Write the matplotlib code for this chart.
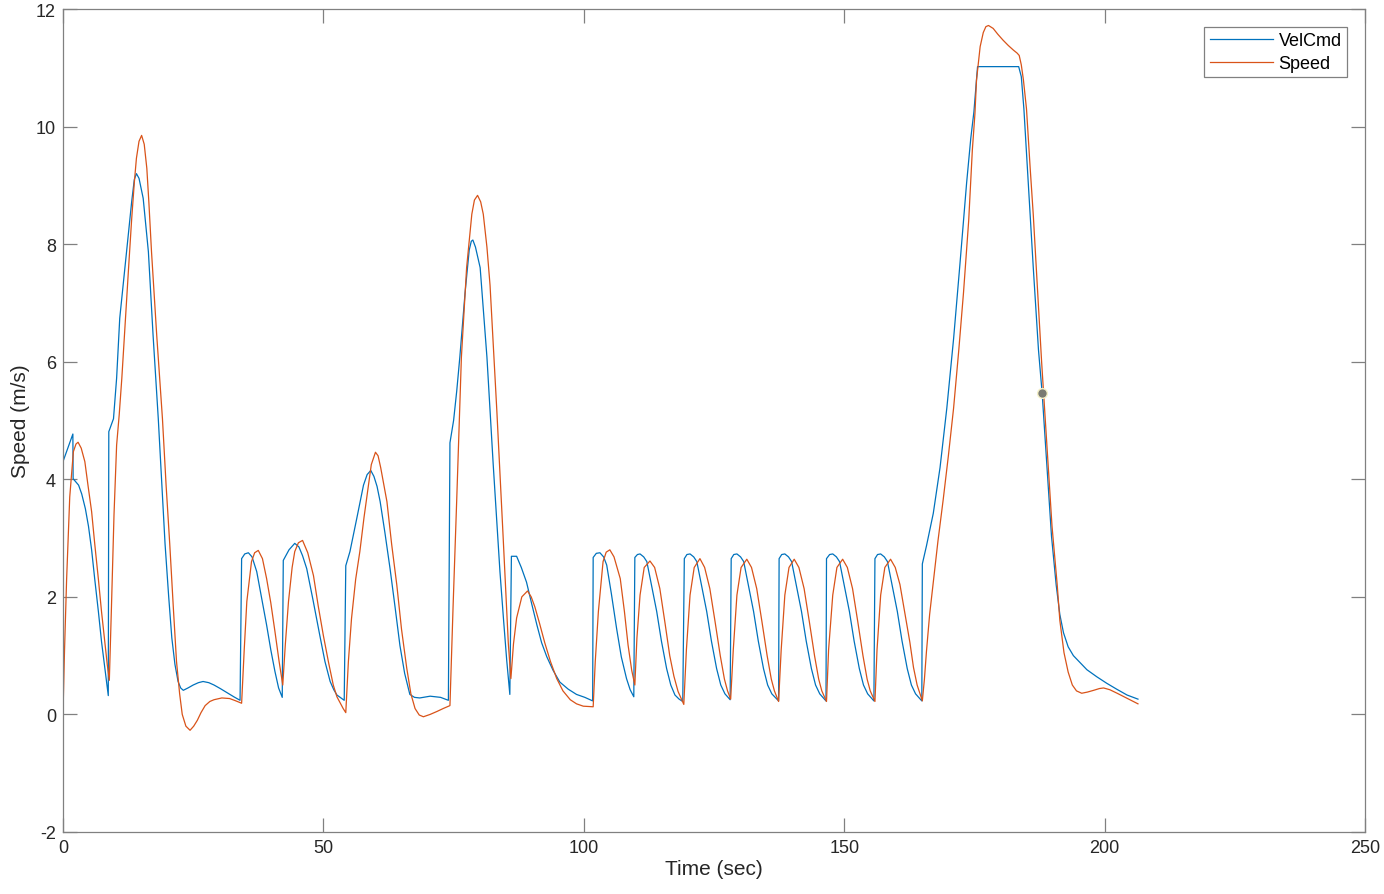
import matplotlib.pyplot as plt
import numpy as np

plt.rcParams['font.family'] = ['Liberation Sans', 'DejaVu Sans']
plt.rcParams['axes.unicode_minus'] = False

# VelCmd (blue) - time (sec), speed (m/s)
velcmd_t = np.array([
    0.0, 1.9, 1.95, 3.0, 3.6, 4.3, 4.9, 5.5, 6.1, 6.8, 7.4, 8.1, 8.7,
    8.8, 9.7, 10.3, 10.9, 12.2, 13.2, 13.7, 14.1, 14.6, 15.4, 16.4, 17.3, 18.3,
    19.0, 19.6, 20.3, 20.9, 21.5, 22.1, 22.6, 23.1,
    24.0, 25.0, 26.0, 26.9, 28.0, 29.0, 30.2, 31.5, 32.8, 34.0,
    34.3, 34.9, 35.6, 36.3, 37.2, 38.1, 39.1, 39.9, 40.7, 41.4, 42.1,
    42.3, 43.4, 44.5, 45.3, 46.0, 46.8, 48.0, 49.3, 50.3, 51.3, 52.0, 52.6, 54.0,
    54.3, 55.1, 56.4, 57.7, 58.4, 59.1, 59.7, 60.3, 60.9, 61.8, 62.8, 63.8, 64.7,
    65.6, 66.6, 67.5, 68.5, 70.5, 72.5, 74.0,
    74.3, 75.0, 75.6, 76.2, 77.2, 78.0, 78.4, 78.7, 79.2, 80.1, 81.4, 82.6, 83.9,
    84.6, 85.2, 85.8,
    86.1, 87.1, 88.0, 89.0, 90.0, 91.0, 91.9, 92.9, 94.1, 95.4, 97.0, 98.6, 100.2, 101.7,
    101.8, 102.4, 103.1, 103.8, 104.4, 105.3, 106.3, 107.2, 108.2, 108.9, 109.6,
    109.8, 110.3, 110.8, 111.5, 112.1, 113.0, 114.0, 114.9, 115.9, 116.7, 117.5, 118.3, 119.0,
    119.3, 119.8, 120.4, 121.1, 121.7, 122.6, 123.6, 124.5, 125.5, 126.3, 127.1, 128.1,
    128.3, 128.8, 129.4, 130.1, 130.7, 131.6, 132.6, 133.5, 134.5, 135.3, 136.1, 137.4,
    137.5, 138.0, 138.6, 139.3, 139.9, 140.8, 141.8, 142.7, 143.7, 144.5, 145.3, 146.5,
    146.6, 147.2, 147.8, 148.5, 149.1, 150.0, 151.0, 151.9, 152.9, 153.7, 154.5, 155.7,
    155.9, 156.4, 157.0, 157.7, 158.3, 159.2, 160.2, 161.1, 162.1, 162.9, 163.7, 164.9,
    165.0, 165.8, 167.1, 168.4, 169.7, 171.0, 172.2, 173.5, 174.3, 174.9, 175.6,
    183.5, 184.0, 184.5, 185.2, 186.3, 187.3, 188.0, 188.9, 189.8, 190.7, 191.4,
    192.1, 193.0, 194.0, 195.3, 196.6, 198.5, 200.4, 202.3, 204.3, 206.4,
])
velcmd_v = np.array([
    4.30, 4.77, 4.01, 3.90, 3.75, 3.50, 3.20, 2.80, 2.30, 1.75, 1.24, 0.75, 0.32,
    4.81, 5.03, 5.72, 6.74, 7.87, 8.73, 9.10, 9.20, 9.12, 8.78, 7.87, 6.45, 5.03,
    3.90, 2.90, 2.00, 1.30, 0.85, 0.56, 0.45, 0.41,
    0.45, 0.50, 0.54, 0.56, 0.54, 0.50, 0.44, 0.37, 0.30, 0.24,
    2.65, 2.73, 2.75, 2.68, 2.43, 2.00, 1.52, 1.10, 0.73, 0.45, 0.29,
    2.62, 2.80, 2.91, 2.85, 2.70, 2.48, 1.95, 1.35, 0.90, 0.56, 0.42, 0.33, 0.24,
    2.53, 2.77, 3.33, 3.90, 4.08, 4.15, 4.05, 3.88, 3.62, 3.10, 2.48, 1.80, 1.17,
    0.70, 0.34, 0.29, 0.28, 0.31, 0.29, 0.24,
    4.62, 5.00, 5.50, 6.08, 7.17, 7.90, 8.05, 8.07, 7.95, 7.60, 6.08, 4.26, 2.43,
    1.60, 0.92, 0.34,
    2.69, 2.69, 2.50, 2.25, 1.88, 1.52, 1.22, 0.98, 0.75, 0.55, 0.43, 0.34, 0.29, 0.23,
    2.67, 2.74, 2.75, 2.68, 2.54, 2.05, 1.46, 0.98, 0.61, 0.42, 0.30,
    2.67, 2.72, 2.73, 2.68, 2.60, 2.20, 1.75, 1.25, 0.78, 0.50, 0.33, 0.26, 0.22,
    2.65, 2.72, 2.73, 2.68, 2.60, 2.20, 1.75, 1.25, 0.78, 0.50, 0.35, 0.25,
    2.65, 2.72, 2.73, 2.68, 2.60, 2.20, 1.75, 1.25, 0.78, 0.50, 0.35, 0.23,
    2.65, 2.72, 2.73, 2.68, 2.60, 2.20, 1.75, 1.25, 0.78, 0.50, 0.35, 0.23,
    2.65, 2.72, 2.73, 2.68, 2.60, 2.20, 1.75, 1.25, 0.78, 0.50, 0.35, 0.23,
    2.65, 2.72, 2.73, 2.68, 2.60, 2.20, 1.75, 1.25, 0.78, 0.50, 0.35, 0.23,
    2.56, 2.87, 3.42, 4.20, 5.21, 6.39, 7.64, 9.04, 9.80, 10.25, 11.02,
    11.02, 10.85, 10.30, 9.25, 7.60, 6.20, 5.47, 4.25, 3.03, 2.20, 1.70,
    1.39, 1.15, 1.00, 0.88, 0.76, 0.64, 0.53, 0.43, 0.33, 0.26,
])

# Speed (orange)
speed_t = np.array([
    0.0, 0.3, 0.7, 1.3, 2.0, 2.5, 2.9, 3.5, 4.2, 4.8, 5.5, 6.1, 6.8, 7.4, 8.1, 8.5, 8.9,
    9.3, 9.8, 10.3, 10.8, 11.3, 12.0, 12.6, 13.2, 13.7, 14.1, 14.6, 15.1, 15.6, 16.1,
    16.5, 17.0, 18.0, 19.1, 19.8, 20.5, 21.2, 21.8, 22.4, 22.9, 23.6, 24.4, 25.1,
    25.8, 26.5, 27.3, 28.2, 29.0, 30.5, 32.0, 33.2, 34.3,
    34.8, 35.3, 36.2, 36.8, 37.5, 38.3, 39.1, 39.9, 40.7, 41.5, 42.2,
    42.7, 43.3, 44.0, 44.5, 45.2, 46.0, 47.0, 48.1, 49.0, 50.0, 51.0, 51.9, 52.6,
    53.2, 53.8, 54.3,
    54.8, 55.4, 56.2, 57.0, 57.8, 58.5, 59.2, 60.0, 60.5, 61.0, 62.2, 63.1, 64.1,
    65.0, 66.0, 66.8, 67.6, 68.4, 69.2, 70.5, 71.8, 73.0, 74.3,
    74.9, 75.6, 76.5, 77.5, 78.5, 79.0, 79.6, 80.2, 80.7, 81.4, 82.0, 83.3, 84.5,
    85.5, 86.0,
    86.5, 87.1, 88.1, 89.2, 89.9, 90.6, 91.5, 92.5, 93.6, 94.8, 96.0, 97.4, 98.6,
    99.9, 101.8,
    102.2, 102.8, 103.7, 104.3, 105.0, 105.8, 107.0, 107.8, 108.5, 109.2, 109.8,
    110.2, 110.8, 111.6, 112.7, 113.6, 114.6, 115.6, 116.5, 117.3, 118.1, 119.2,
    119.7, 120.4, 121.2, 122.3, 123.2, 124.2, 125.2, 126.2, 127.0, 127.6, 128.2,
    128.7, 129.4, 130.2, 131.3, 132.2, 133.2, 134.2, 135.2, 136.0, 136.6, 137.4,
    137.9, 138.6, 139.4, 140.4, 141.3, 142.3, 143.3, 144.3, 145.1, 145.7, 146.6,
    147.0, 147.8, 148.6, 149.7, 150.6, 151.6, 152.6, 153.6, 154.4, 155.0, 155.9,
    156.3, 157.0, 157.8, 158.9, 159.8, 160.7, 161.6, 162.6, 163.3, 164.0, 165.0,
    165.4, 165.8, 166.4, 167.1, 168.0, 169.0, 170.0, 171.0, 172.0, 172.9, 173.9,
    174.6, 175.1, 175.4, 176.1, 176.7, 177.2, 177.7, 178.6, 179.5, 180.5, 181.5,
    182.5, 183.2, 183.6, 184.0, 184.4, 185.0, 185.7, 186.3, 187.0, 187.9, 188.9,
    189.9, 190.9, 191.4, 192.2, 193.0, 193.8, 194.6, 195.6, 196.7, 197.9, 199.0,
    199.8, 201.0, 202.4, 204.4, 206.4,
])
speed_v = np.array([
    0.00, 1.10, 2.30, 3.70, 4.47, 4.60, 4.63, 4.53, 4.30, 3.90, 3.45, 2.90, 2.30, 1.75,
    1.17, 0.85, 0.58,
    1.80, 3.40, 4.58, 5.10, 5.72, 6.74, 7.60, 8.44, 9.05, 9.46, 9.75, 9.85, 9.70, 9.29,
    8.70, 7.87, 6.45, 5.03, 3.90, 2.90, 1.80, 0.90, 0.35, 0.00, -0.20, -0.27, -0.20,
    -0.10, 0.03, 0.15, 0.22, 0.25, 0.28, 0.27, 0.23, 0.19,
    1.10, 1.92, 2.60, 2.75, 2.79, 2.65, 2.31, 1.90, 1.41, 0.90, 0.50,
    1.20, 1.92, 2.50, 2.77, 2.92, 2.96, 2.75, 2.36, 1.85, 1.34, 0.88, 0.50, 0.30,
    0.20, 0.10, 0.03,
    0.90, 1.63, 2.30, 2.77, 3.35, 3.80, 4.25, 4.46, 4.40, 4.20, 3.62, 2.90, 2.20,
    1.45, 0.79, 0.35, 0.10, -0.01, -0.04, 0.00, 0.05, 0.10, 0.15,
    1.83, 3.65, 6.08, 7.60, 8.51, 8.75, 8.83, 8.72, 8.51, 7.95, 7.30, 5.17, 3.04,
    1.22, 0.61,
    1.20, 1.64, 2.00, 2.10, 2.00, 1.83, 1.55, 1.22, 0.90, 0.61, 0.40, 0.25, 0.18,
    0.14, 0.13,
    0.90, 1.75, 2.60, 2.76, 2.80, 2.68, 2.31, 1.75, 1.18, 0.75, 0.50,
    1.30, 2.03, 2.50, 2.61, 2.50, 2.14, 1.55, 1.00, 0.65, 0.39, 0.17,
    1.10, 2.03, 2.50, 2.65, 2.50, 2.14, 1.58, 1.00, 0.60, 0.40, 0.26,
    1.10, 2.03, 2.50, 2.64, 2.50, 2.14, 1.58, 1.00, 0.60, 0.40, 0.22,
    1.10, 2.03, 2.50, 2.64, 2.50, 2.14, 1.58, 1.00, 0.60, 0.40, 0.22,
    1.10, 2.03, 2.50, 2.64, 2.50, 2.14, 1.58, 1.00, 0.60, 0.40, 0.22,
    1.10, 2.03, 2.50, 2.64, 2.50, 2.21, 1.75, 1.23, 0.80, 0.50, 0.23,
    0.60, 1.08, 1.70, 2.25, 2.95, 3.65, 4.40, 5.21, 6.20, 7.17, 8.40,
    9.60, 10.22, 10.79, 11.36, 11.60, 11.70, 11.72, 11.67, 11.57, 11.47, 11.38,
    11.30, 11.25, 11.21, 11.05, 10.80, 10.30, 9.30, 8.50, 7.42, 6.00, 4.60,
    3.20, 2.20, 1.60, 1.05, 0.72, 0.50, 0.40, 0.36, 0.38, 0.41, 0.44,
    0.45, 0.42, 0.36, 0.27, 0.18,
])

# data tip on the VelCmd line
tip_t = [188.0]
tip_v = [5.47]

fig = plt.figure(figsize=(13.84, 8.95), dpi=100)
ax = fig.add_axes([0.0455, 0.0693, 0.9408, 0.9195])

ax.plot(velcmd_t, velcmd_v, color='#0072BD', linewidth=0.9, label='VelCmd')
ax.plot(speed_t, speed_v, color='#D95319', linewidth=0.9, label='Speed')
ax.plot(tip_t, tip_v, 'o', markersize=7, markerfacecolor='#7a7a72',
        markeredgecolor='#f4f0c8', markeredgewidth=1.0, zorder=5)

ax.set_xlim(0, 250)
ax.set_ylim(-2, 12)
ax.set_xticks(np.arange(0, 251, 50))
ax.set_yticks(np.arange(-2, 13, 2))

text_col = '#262626'
line_col = '#808080'
for s in ax.spines.values():
    s.set_color(line_col)
    s.set_linewidth(0.9)
ax.tick_params(direction='in', length=10, width=0.9, color=line_col,
               labelcolor=text_col, labelsize=13, top=True, right=True, pad=5)

ax.set_xlabel('Time (sec)', fontsize=15, color=text_col, labelpad=2)
ax.set_ylabel('Speed (m/s)', fontsize=15, color=text_col, labelpad=4)

leg = ax.legend(loc='upper right', fontsize=13, fancybox=False,
                framealpha=1, edgecolor=line_col, borderaxespad=1.0,
                handlelength=3.5, handletextpad=0.3, borderpad=0.3,
                labelspacing=0.3)
leg.get_frame().set_linewidth(0.9)

plt.savefig('out.png', dpi=100)
